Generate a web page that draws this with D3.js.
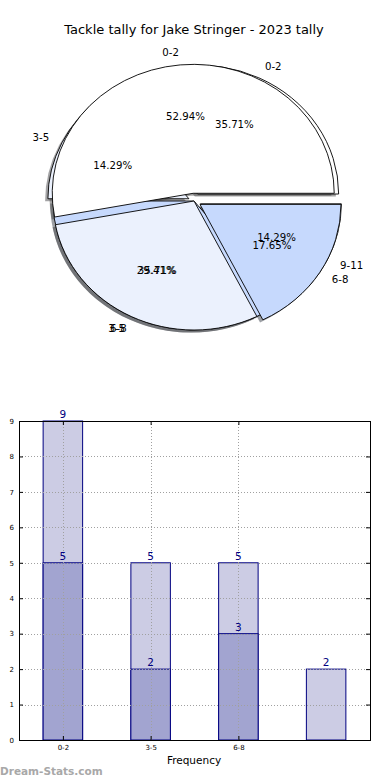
<!DOCTYPE html>
<html>
<head>
<meta charset="utf-8">
<script src="https://cdn.jsdelivr.net/npm/d3@7"></script>
<style>
  body { margin: 0; background: #fff; }
  text { font-family: "DejaVu Sans", sans-serif; }
</style>
</head>
<body>
<script>
// pie data (two pies drawn on top of each other)
var pieLabelsA = ["0-2", "3-5", "6-8"];
var pieValuesA = [9, 5, 3];
var pieLabelsB = ["0-2", "3-5", "6-8", "9-11"];
var pieValuesB = [5, 2, 5, 2];

// bar data
var barCategories = ["0-2", "3-5", "6-8", "9-11"];
var lightValues = [9, 5, 5, 2];
var darkValues = [5, 2, 3];
var xTickLabels = ["0-2", "3-5", "6-8"];
var yTicks = [0, 1, 2, 3, 4, 5, 6, 7, 8, 9];

var title = "Tackle tally for Jake Stringer - 2023 tally";

var svg = d3.select("body")
  .append("svg")
  .attr("width", 390)
  .attr("height", 780);

svg.append("text")
  .attr("x", 194).attr("y", 34)
  .attr("text-anchor", "middle")
  .attr("font-size", 13)
  .text(title);

// ---------- pies ----------
var cx = 194, cy = 201, rx = 141, ry = 129;

var pieGen = d3.pie().sort(null).startAngle(Math.PI / 2).endAngle(Math.PI / 2 - 2 * Math.PI);
var arc = d3.arc().innerRadius(0).outerRadius(1);

var pies = [
  { labels: pieLabelsB, values: pieValuesB, explode: [0.06, 0.04, 0, 0.05],
    colors: ["#ffffff", "#ebf1fd", "#c6d9fd", "#ffffff"] },
  { labels: pieLabelsA, values: pieValuesA, explode: [0.06, 0, 0.05],
    colors: ["#ffffff", "#ebf1fd", "#c6d9fd"] }
];

var wedges = [];
pies.forEach(function(p) {
  var total = d3.sum(p.values);
  pieGen(p.values).forEach(function(d, i) {
    var th = Math.PI / 2 - (d.startAngle + d.endAngle) / 2;  // matplotlib angle
    var e = p.explode[i];
    wedges.push({
      d: d,
      th: th,
      ox: cx + e * rx * Math.cos(th),
      oy: cy - e * ry * Math.sin(th),
      color: p.colors[i],
      label: p.labels[i],
      pct: (100 * p.values[i] / total).toFixed(2) + "%"
    });
  });
});

// shadows go under every wedge
var shadowG = svg.append("g");
wedges.forEach(function(w) {
  var c = d3.rgb(w.color);
  shadowG.append("path")
    .attr("transform", "translate(" + (w.ox - 0.02 * rx) + "," + (w.oy + 0.02 * ry) + ") scale(" + rx + "," + ry + ")")
    .attr("d", arc(w.d))
    .attr("fill", d3.rgb(c.r * 0.3, c.g * 0.3, c.b * 0.3))
    .attr("fill-opacity", 0.5)
    .attr("stroke", "none");
});

var wedgeG = svg.append("g");
wedges.forEach(function(w) {
  wedgeG.append("path")
    .attr("transform", "translate(" + w.ox + "," + w.oy + ") scale(" + rx + "," + ry + ")")
    .attr("d", arc(w.d))
    .attr("fill", w.color)
    .attr("stroke", "#000")
    .attr("stroke-width", 0.9)
    .attr("vector-effect", "non-scaling-stroke");
});

var textG = svg.append("g").attr("font-size", 10.2);
wedges.forEach(function(w) {
  var lx = w.ox + 1.1 * rx * Math.cos(w.th);
  var ly = w.oy - 1.1 * ry * Math.sin(w.th);
  textG.append("text")
    .attr("x", lx).attr("y", ly)
    .attr("dy", "0.35em")
    .attr("text-anchor", (lx - cx) > 0 ? "start" : "end")
    .text(w.label);
  textG.append("text")
    .attr("x", w.ox + 0.6 * rx * Math.cos(w.th))
    .attr("y", w.oy - 0.6 * ry * Math.sin(w.th))
    .attr("dy", "0.35em")
    .attr("text-anchor", "middle")
    .text(w.pct);
});

// ---------- bars ----------
var plotLeft = 19, plotRight = 370, plotTop = 421, plotBottom = 740;
var x = d3.scaleLinear().domain([-0.5, 3.5]).range([plotLeft, plotRight]);
var y = d3.scaleLinear().domain([0, 9]).range([plotBottom, plotTop]);
var bw = 0.45;

var bars = svg.append("g");

bars.selectAll(".light")
  .data(lightValues)
  .enter()
  .append("rect")
  .attr("class", "light")
  .attr("x", function(d, i) { return x(i - bw / 2); })
  .attr("width", function() { return x(bw) - x(0); })
  .attr("y", function(d) { return y(d); })
  .attr("height", function(d) { return y(0) - y(d); })
  .attr("fill", "#cccce4")
  .attr("stroke", "#000080");

bars.selectAll(".dark")
  .data(darkValues)
  .enter()
  .append("rect")
  .attr("class", "dark")
  .attr("x", function(d, i) { return x(i - bw / 2); })
  .attr("width", function() { return x(bw) - x(0); })
  .attr("y", function(d) { return y(d); })
  .attr("height", function(d) { return y(0) - y(d); })
  .attr("fill", "#a2a4d0")
  .attr("stroke", "#000080");

// grid
var grid = svg.append("g")
  .attr("stroke", "#a0a0a0")
  .attr("stroke-dasharray", "1,2");
grid.selectAll(".hg")
  .data(yTicks.slice(1, -1))
  .enter()
  .append("line")
  .attr("x1", plotLeft).attr("x2", plotRight)
  .attr("y1", function(d) { return Math.round(y(d)) + 0.5; })
  .attr("y2", function(d) { return Math.round(y(d)) + 0.5; });
grid.selectAll(".vg")
  .data(xTickLabels)
  .enter()
  .append("line")
  .attr("x1", function(d, i) { return Math.round(x(i)) + 0.5; })
  .attr("x2", function(d, i) { return Math.round(x(i)) + 0.5; })
  .attr("y1", plotTop).attr("y2", plotBottom);

// value labels
var vals = svg.append("g")
  .attr("font-size", 10.5)
  .attr("fill", "#000080")
  .attr("text-anchor", "middle");
lightValues.forEach(function(d, i) {
  vals.append("text").attr("x", x(i)).attr("y", y(d) - 3).text(d);
});
darkValues.forEach(function(d, i) {
  vals.append("text").attr("x", x(i)).attr("y", y(d) - 3).text(d);
});

// axes with inward ticks
var yAxis = d3.axisLeft(y).tickValues(yTicks).tickSize(-4).tickPadding(5);
svg.append("g").attr("transform", "translate(" + plotLeft + ",0)").call(yAxis)
  .call(function(g) { g.select(".domain").remove(); g.selectAll("text").attr("font-size", 7).attr("font-family", "DejaVu Sans"); });
svg.append("g").attr("transform", "translate(" + plotRight + ",0)")
  .call(d3.axisRight(y).tickValues(yTicks).tickSize(-4).tickFormat(""))
  .call(function(g) { g.select(".domain").remove(); });

var xAxis = d3.axisBottom(x).tickValues([0, 1, 2]).tickSize(-4).tickPadding(5)
  .tickFormat(function(d) { return xTickLabels[d]; });
svg.append("g").attr("transform", "translate(0," + plotBottom + ")").call(xAxis)
  .call(function(g) { g.select(".domain").remove(); g.selectAll("text").attr("font-size", 7).attr("font-family", "DejaVu Sans"); });
svg.append("g").attr("transform", "translate(0," + plotTop + ")")
  .call(d3.axisTop(x).tickValues([0, 1, 2]).tickSize(-4).tickFormat(""))
  .call(function(g) { g.select(".domain").remove(); });

svg.append("rect")
  .attr("x", plotLeft + 0.5).attr("y", plotTop + 0.5)
  .attr("width", plotRight - plotLeft).attr("height", plotBottom - plotTop)
  .attr("fill", "none")
  .attr("stroke", "#000");

svg.append("text")
  .attr("x", 194).attr("y", 764)
  .attr("text-anchor", "middle")
  .attr("font-size", 10.5)
  .text("Frequency");

svg.append("text")
  .attr("x", 0).attr("y", 775)
  .attr("font-size", 10.5)
  .attr("font-weight", "bold")
  .attr("fill", "#a8a8a8")
  .text("Dream-Stats.com");
</script>
</body>
</html>
